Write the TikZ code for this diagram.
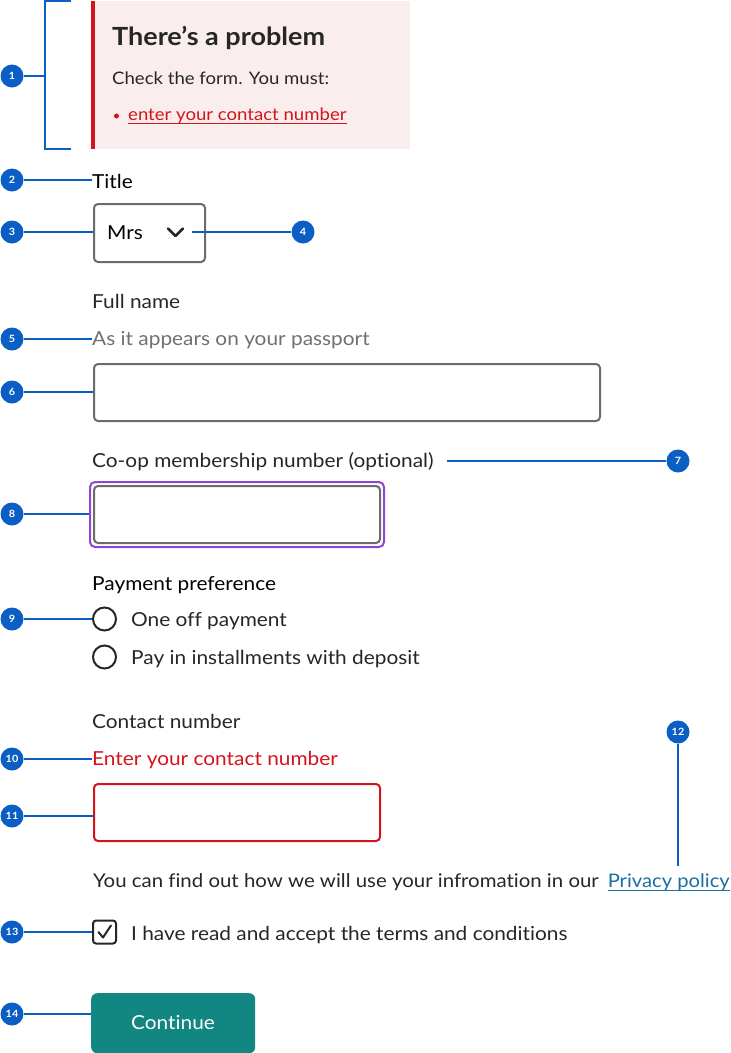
\documentclass[tikz,border=0pt]{standalone}
\usepackage{fontspec}
\setmainfont{Lato}[FakeStretch=1.08, Ligatures=NoCommon]
\definecolor{badgeblue}{HTML}{0B5EC4}
\definecolor{errred}{HTML}{D4131B}
\definecolor{pinkbg}{HTML}{F9EEED}
\definecolor{txt}{HTML}{262626}
\definecolor{hintgray}{HTML}{707070}
\definecolor{boxgray}{HTML}{6B6B6B}
\definecolor{focuspurple}{HTML}{8C47D9}
\definecolor{linkblue}{HTML}{1A6FA0}
\definecolor{btnteal}{HTML}{128782}
\tikzset{
  badge/.style={circle, fill=badgeblue, text=white, font=\bfseries\fontsize{10}{10}\selectfont, inner sep=0pt, minimum size=23pt},
  lead/.style={draw=badgeblue, line width=2pt},
  lbl/.style={anchor=west, inner sep=0pt, text=txt, font=\fontsize{19.3}{21}\selectfont},
  field/.style={draw=boxgray, line width=2pt, rounded corners=4pt, anchor=north west, inner sep=0pt},
}
\begin{document}
\begin{tikzpicture}[x=1pt,y=-1pt]
\useasboundingbox (0,0) rectangle (731,1053);
% error summary
\node[fill=pinkbg, anchor=north west, minimum width=319pt, minimum height=148pt, inner sep=0pt] (summary) at (91,1) {};
\draw[errred, line width=4pt] ([xshift=2pt]summary.north west) -- ([xshift=2pt]summary.south west);
\node[lbl, font=\bfseries\fontsize{25}{28}\selectfont] (sumtitle) at (112,38) {There’s a problem};
\node[lbl, font=\fontsize{17.2}{20}\selectfont] (sumcheck) at (112,78) {Check the form. You must:};
\node[circle, fill=errred, inner sep=0pt, minimum size=5pt] (bullet) at (116.5,116) {};
\node[lbl, text=errred, font=\fontsize{17.2}{20}\selectfont] (sumlink) at (128,116) {enter your contact number};
\draw[errred, line width=1pt] ([yshift=-2.5pt]sumlink.base west) -- ([yshift=-2.5pt]sumlink.base east);
% bracket 1
\coordinate (brtop) at (71,1);
\coordinate (brbot) at (71,149);
\coordinate (brmid) at (45,76);
\draw[lead] (brtop) -- (45,1) -- (45,149) -- (brbot);
\node[badge] (b1) at (12,76) {1};
\draw[lead] (b1) -- (brmid);
% title select
\node[lbl, text=black] (title) at (92,181) {Title};
\node[badge] (b2) at (12,180) {2};
\draw[lead] (b2) -- (b2 -| title.west);
\node[field, minimum width=111pt, minimum height=58pt] (select) at (93,203) {};
\node[lbl, text=black] (mrs) at (107,233) {Mrs};
\draw[line width=2.5pt, black!85, line cap=round, line join=round] (168,228.5) -- (175.5,236) -- (183,228.5);
\coordinate (chev) at (192,232);
\node[badge] (b3) at (12,232) {3};
\draw[lead] (b3) -- (b3 -| select.west);
\node[badge] (b4) at (303,232) {4};
\draw[lead] (chev) -- (b4);
% full name
\node[lbl] (fullname) at (92,301) {Full name};
\node[lbl, text=hintgray] (hint) at (92,340) {As it appears on your passport};
\node[badge] (b5) at (12,339) {5};
\draw[lead] (b5) -- (b5 -| hint.west);
\node[field, minimum width=506pt, minimum height=57pt] (nameinput) at (93,363) {};
\node[badge] (b6) at (12,392) {6};
\draw[lead] (b6) -- (b6 -| nameinput.west);
% co-op
\node[lbl] (coop) at (92,462) {Co-op membership number (optional)};
\node[badge] (b7) at (678,461) {7};
\draw[lead] ([xshift=13pt]coop.east |- b7) -- (b7);
\node[draw=focuspurple, line width=2pt, rounded corners=5pt, anchor=north west, inner sep=0pt, minimum width=294pt, minimum height=65pt] (focusring) at (89,481) {};
\node[field, minimum width=286pt, minimum height=57pt] (coopinput) at (93,485) {};
\node[badge] (b8) at (12,514) {8};
\draw[lead] (b8) -- (b8 -| focusring.west);
% payment
\node[lbl, text=black] (payment) at (92,585) {Payment preference};
\node[circle, draw=txt, line width=2pt, minimum size=23pt, inner sep=0pt] (radio1) at (104.5,619) {};
\node[lbl] (r1text) at (131,621) {One off payment};
\node[circle, draw=txt, line width=2pt, minimum size=23pt, inner sep=0pt] (radio2) at (104.5,657) {};
\node[lbl] (r2text) at (131,659) {Pay in installments with deposit};
\node[badge] (b9) at (12,619) {9};
\draw[lead] (b9) -- (b9 -| radio1.west);
% contact
\node[lbl] (contact) at (92,721) {Contact number};
\node[lbl, text=errred] (errmsg) at (92,760) {Enter your contact number};
\node[badge] (b10) at (12,759) {10};
\draw[lead] (b10) -- (b10 -| errmsg.west);
\node[draw=errred, line width=2pt, rounded corners=4pt, anchor=north west, inner sep=0pt, minimum width=286pt, minimum height=57pt] (contactinput) at (93,783) {};
\node[badge] (b11) at (12,816) {11};
\draw[lead] (b11) -- (b11 -| contactinput.west);
% privacy
\node[lbl, font=\fontsize{18.9}{21}\selectfont] (privtext) at (93,882) {You can find out how we will use your infromation in our};
\node[lbl, text=linkblue, anchor=east, font=\fontsize{18.7}{21}\selectfont] (privlink) at (730,882) {Privacy policy};
\draw[linkblue, line width=1pt] ([yshift=-3pt]privlink.base west) -- ([yshift=-3pt]privlink.base east);
\node[badge] (b12) at (678,732) {12};
\coordinate (privtop) at (678,866);
\draw[lead] (b12) -- (privtop);
% checkbox
\node[draw=txt, line width=2pt, rounded corners=3pt, minimum size=23pt, inner sep=0pt] (checkbox) at (104.5,932) {};
\draw[txt, line width=2pt, line cap=round, line join=round] (98.5,932) -- (103,937.5) -- (111,925.5);
\node[lbl] (terms) at (131,935) {I have read and accept the terms and conditions};
\node[badge] (b13) at (12,932) {13};
\draw[lead] (b13) -- (b13 -| checkbox.west);
% button
\node[fill=btnteal, rounded corners=6pt, anchor=north west, minimum width=164pt, minimum height=60pt, inner sep=0pt] (button) at (91,993) {};
\node[text=white, font=\fontsize{19.3}{21}\selectfont, inner sep=0pt] (btntext) at (173,1023) {Continue};
\node[badge] (b14) at (12,1014) {14};
\draw[lead] (b14) -- (b14 -| button.west);
\end{tikzpicture}
\end{document}
